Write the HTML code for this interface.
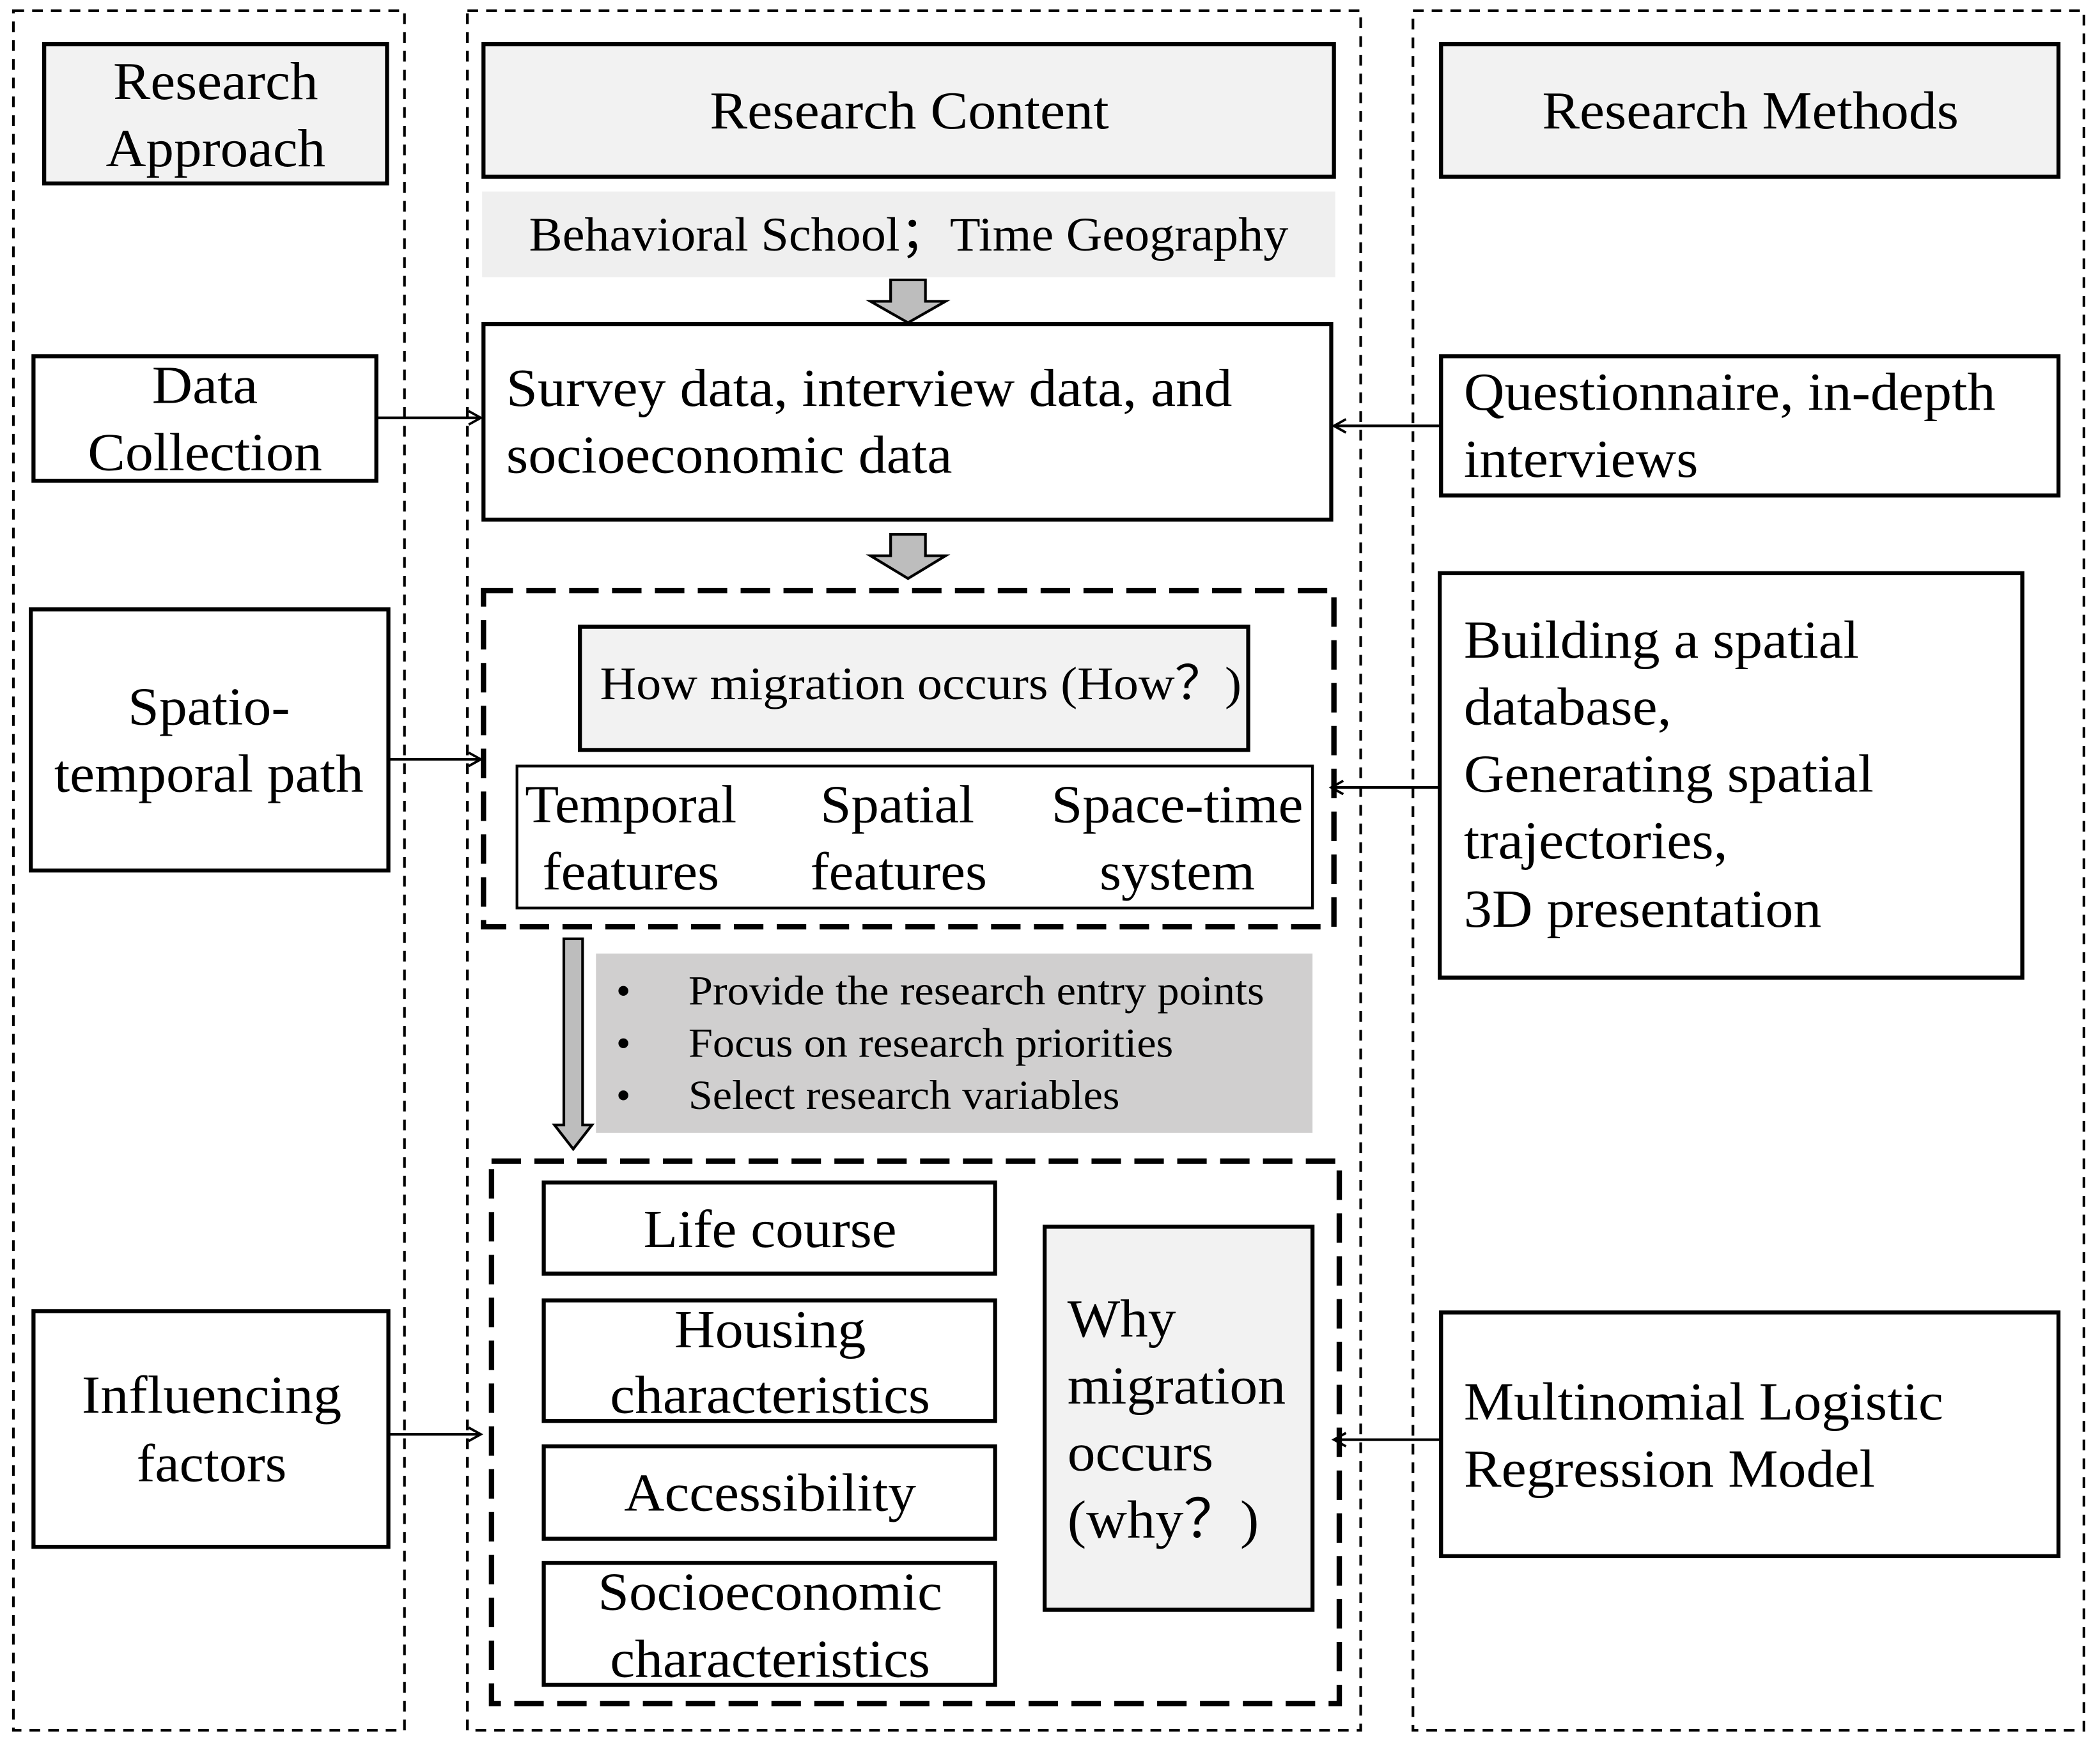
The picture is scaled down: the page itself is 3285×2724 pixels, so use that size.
<!DOCTYPE html>
<html><head><meta charset="utf-8"><style>html,body{margin:0;padding:0;background:#fff}svg{display:block}text{font-family:"Liberation Serif","Times New Roman",Times,serif;fill:#000}</style></head>
<body>
<svg width="3285" height="2724" viewBox="0 0 1568 1300" preserveAspectRatio="none" xmlns="http://www.w3.org/2000/svg">
<defs>
<marker id="ah" markerWidth="12" markerHeight="12" refX="10" refY="6" orient="auto" markerUnits="userSpaceOnUse">
<path d="M1,1 L10,6 L1,11" fill="none" stroke="#000" stroke-width="1.8"/>
</marker>
</defs>
<g fill="none" stroke="#000" stroke-width="2" stroke-dasharray="8 6">
<rect x="10" y="8" width="292" height="1284"/>
<rect x="349" y="8" width="667" height="1284"/>
<rect x="1055" y="8" width="501" height="1284"/>
</g>
<g stroke="#000" stroke-width="3">
<rect x="33" y="33" width="256" height="104" fill="#f2f2f2"/>
<rect x="361" y="33" width="635" height="99" fill="#f2f2f2"/>
<rect x="1076" y="33" width="461" height="99" fill="#f2f2f2"/>
</g>
<g font-size="40" text-anchor="middle" lengthAdjust="spacingAndGlyphs">
<text x="161" y="74" textLength="153" lengthAdjust="spacingAndGlyphs">Research</text><text x="161" y="124" textLength="164" lengthAdjust="spacingAndGlyphs">Approach</text>
<text x="679" y="96" textLength="298" lengthAdjust="spacingAndGlyphs">Research Content</text>
<text x="1307" y="96" textLength="311" lengthAdjust="spacingAndGlyphs">Research Methods</text>
</g>
<rect x="360" y="143" width="637" height="64" fill="#efefef"/>
<text x="395" y="187" font-size="36" textLength="567" lengthAdjust="spacingAndGlyphs">Behavioral School；Time Geography</text>
<g fill="#bdbdbd" stroke="#000" stroke-width="2">
<path d="M665,209 H691 V225 H706 L678,241 L650,225 H665 Z"/>
<path d="M665,399 H691 V415 H706 L678,432 L650,415 H665 Z"/>
<path d="M421,701 H435 V840 H442 L428,858 L414,840 H421 Z"/>
</g>
<rect x="361" y="242" width="633" height="146" fill="#fff" stroke="#000" stroke-width="3"/>
<text x="378" y="303" font-size="40" textLength="542" lengthAdjust="spacingAndGlyphs">Survey data, interview data, and</text>
<text x="378" y="353" font-size="40" textLength="333" lengthAdjust="spacingAndGlyphs">socioeconomic data</text>
<rect x="361" y="441" width="635" height="251" fill="none" stroke="#000" stroke-width="4" stroke-dasharray="22 10"/>
<rect x="433" y="468" width="499" height="92" fill="#f2f2f2" stroke="#000" stroke-width="3"/>
<text x="448" y="522" font-size="35" textLength="479" lengthAdjust="spacingAndGlyphs">How migration occurs (How？)</text>
<rect x="386" y="572" width="594" height="106" fill="#fff" stroke="#000" stroke-width="2"/>
<g font-size="40" text-anchor="middle">
<text x="471" y="614" textLength="158" lengthAdjust="spacingAndGlyphs">Temporal</text><text x="471" y="664" textLength="132" lengthAdjust="spacingAndGlyphs">features</text>
<text x="670" y="614" textLength="115" lengthAdjust="spacingAndGlyphs">Spatial</text><text x="671" y="664" textLength="132" lengthAdjust="spacingAndGlyphs">features</text>
<text x="879" y="614" textLength="188" lengthAdjust="spacingAndGlyphs">Space-time</text><text x="879" y="664" textLength="116" lengthAdjust="spacingAndGlyphs">system</text>
</g>
<rect x="445" y="712" width="535" height="134" fill="#d0cfcf"/>
<g font-size="31">
<text x="460" y="750">•</text><text x="514" y="750" textLength="430" lengthAdjust="spacingAndGlyphs">Provide the research entry points</text>
<text x="460" y="789">•</text><text x="514" y="789" textLength="362" lengthAdjust="spacingAndGlyphs">Focus on research priorities</text>
<text x="460" y="828">•</text><text x="514" y="828" textLength="322" lengthAdjust="spacingAndGlyphs">Select research variables</text>
</g>
<rect x="367" y="867" width="633" height="405" fill="none" stroke="#000" stroke-width="4" stroke-dasharray="22 10"/>
<g fill="#fff" stroke="#000" stroke-width="3">
<rect x="406" y="883" width="337" height="68"/>
<rect x="406" y="971" width="337" height="90"/>
<rect x="406" y="1080" width="337" height="69"/>
<rect x="406" y="1167" width="337" height="91"/>
</g>
<rect x="780" y="916" width="200" height="286" fill="#f2f2f2" stroke="#000" stroke-width="3"/>
<g font-size="40" text-anchor="middle">
<text x="575" y="931" textLength="189" lengthAdjust="spacingAndGlyphs">Life course</text>
<text x="575" y="1006" textLength="143" lengthAdjust="spacingAndGlyphs">Housing</text><text x="575" y="1055" textLength="239" lengthAdjust="spacingAndGlyphs">characteristics</text>
<text x="575" y="1128" textLength="218" lengthAdjust="spacingAndGlyphs">Accessibility</text>
<text x="575" y="1202" textLength="257" lengthAdjust="spacingAndGlyphs">Socioeconomic</text><text x="575" y="1252" textLength="239" lengthAdjust="spacingAndGlyphs">characteristics</text>
</g>
<g font-size="40">
<text x="797" y="998" textLength="81" lengthAdjust="spacingAndGlyphs">Why</text><text x="797" y="1048" textLength="163" lengthAdjust="spacingAndGlyphs">migration</text><text x="797" y="1098" textLength="109" lengthAdjust="spacingAndGlyphs">occurs</text><text x="797" y="1148" textLength="143" lengthAdjust="spacingAndGlyphs">(why？)</text>
</g>
<g fill="#fff" stroke="#000" stroke-width="3">
<rect x="25" y="266" width="256" height="93"/>
<rect x="23" y="455" width="267" height="195"/>
<rect x="25" y="979" width="265" height="176"/>
<rect x="1076" y="266" width="461" height="104"/>
<rect x="1075" y="428" width="435" height="302"/>
<rect x="1076" y="980" width="461" height="182"/>
</g>
<g font-size="40" text-anchor="middle">
<text x="153" y="301" textLength="79" lengthAdjust="spacingAndGlyphs">Data</text><text x="153" y="351" textLength="175" lengthAdjust="spacingAndGlyphs">Collection</text>
<text x="156" y="541" textLength="121" lengthAdjust="spacingAndGlyphs">Spatio-</text><text x="156" y="591" textLength="231" lengthAdjust="spacingAndGlyphs">temporal path</text>
<text x="158" y="1055" textLength="194" lengthAdjust="spacingAndGlyphs">Influencing</text><text x="158" y="1106" textLength="112" lengthAdjust="spacingAndGlyphs">factors</text>
</g>
<g font-size="40">
<text x="1093" y="306" textLength="397" lengthAdjust="spacingAndGlyphs">Questionnaire, in-depth</text><text x="1093" y="356" textLength="175" lengthAdjust="spacingAndGlyphs">interviews</text>
<text x="1093" y="491" textLength="295" lengthAdjust="spacingAndGlyphs">Building a spatial</text><text x="1093" y="541" textLength="155" lengthAdjust="spacingAndGlyphs">database,</text>
<text x="1093" y="591" textLength="306" lengthAdjust="spacingAndGlyphs">Generating spatial</text><text x="1093" y="641" textLength="197" lengthAdjust="spacingAndGlyphs">trajectories,</text>
<text x="1093" y="692" textLength="267" lengthAdjust="spacingAndGlyphs">3D presentation</text>
<text x="1093" y="1060" textLength="358" lengthAdjust="spacingAndGlyphs">Multinomial Logistic</text><text x="1093" y="1110" textLength="307" lengthAdjust="spacingAndGlyphs">Regression Model</text>
</g>
<g stroke="#000" stroke-width="2" marker-end="url(#ah)">
<line x1="281" y1="312" x2="359" y2="312"/>
<line x1="290" y1="567" x2="359" y2="567"/>
<line x1="290" y1="1071" x2="359" y2="1071"/>
<line x1="1076" y1="318" x2="996" y2="318"/>
<line x1="1075" y1="588" x2="994" y2="588"/>
<line x1="1076" y1="1075" x2="996" y2="1075"/>
</g>
</svg>
</body></html>
